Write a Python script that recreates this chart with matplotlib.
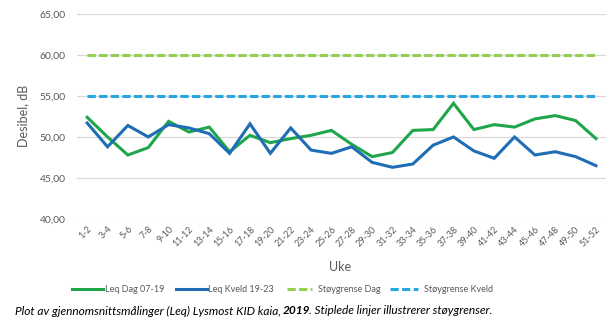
import matplotlib
matplotlib.use("Agg")
import matplotlib.pyplot as plt
from matplotlib.ticker import FuncFormatter, MultipleLocator
from matplotlib.lines import Line2D

# Two-week periods (uke)
weeks = ["1-2", "3-4", "5-6", "7-8", "9-10", "11-12", "13-14", "15-16", "17-18",
         "19-20", "21-22", "23-24", "25-26", "27-28", "29-30", "31-32", "33-34",
         "35-36", "37-38", "39-40", "41-42", "43-44", "45-46", "47-48", "49-50", "51-52"]

# Average Leq per period, dB
leq_dag = [52.4, 50.0, 47.8, 48.7, 51.9, 50.6, 51.2, 48.2, 50.2,
           49.3, 49.8, 50.2, 50.8, 49.1, 47.6, 48.1, 50.8,
           50.9, 54.1, 50.9, 51.5, 51.2, 52.2, 52.6, 52.0, 49.8]
leq_kveld = [51.7, 48.8, 51.4, 50.0, 51.5, 51.1, 50.4, 48.0, 51.6,
             48.0, 51.1, 48.4, 48.0, 48.8, 46.9, 46.3, 46.7,
             49.0, 50.0, 48.3, 47.4, 50.0, 47.8, 48.2, 47.6, 46.5]

# Noise limits, dB
grense_dag = 60.0
grense_kveld = 55.0

green = "#1FA64A"
blue = "#1E6DB5"
lgreen = "#92D050"
lblue = "#27A7E0"
grey = "#595959"

plt.rcParams["font.family"] = ["Lato", "DejaVu Sans"]

W, H = 616, 323
fig = plt.figure(figsize=(W / 100, H / 100), dpi=100)
ax = fig.add_axes([0.125, 0.322, 0.859, 0.635])

x = list(range(len(weeks)))
lw = 2.2
dash = (2.7, 1.1)
ax.plot(x, leq_dag, color=green, lw=lw, solid_joinstyle="miter", zorder=3)
ax.plot(x, leq_kveld, color=blue, lw=lw, solid_joinstyle="miter", zorder=3)
ax.plot(x, [grense_dag] * len(x), color=lgreen, lw=lw, dashes=dash, zorder=2)
ax.plot(x, [grense_kveld] * len(x), color=lblue, lw=lw, dashes=dash, zorder=2)

ax.set_xlim(-0.5, len(weeks) - 0.5)
ax.set_ylim(40, 65)
ax.yaxis.set_major_locator(MultipleLocator(5))
ax.yaxis.set_major_formatter(FuncFormatter(lambda v, p: f"{v:.2f}".replace(".", ",")))
ax.grid(axis="y", color="#d9d9d9", lw=0.9)
ax.set_axisbelow(True)
for s in ax.spines.values():
    s.set_visible(False)
ax.tick_params(axis="both", length=0, colors=grey, labelsize=7.5)
ax.tick_params(axis="y", pad=8)
ax.tick_params(axis="x", pad=4, labelsize=6.5)
ax.set_xticks(x)
ax.set_xticklabels(weeks, rotation=45, ha="right", rotation_mode="anchor")

fig.text(23 / W, 1 - 116 / H, "Desibel, dB", rotation=90, ha="center", va="center",
         fontsize=9, color=grey)
fig.text(340 / W, 1 - 267 / H, "Uke", ha="center", va="center", fontsize=9, color=grey)

# Legend entries laid out in a single row
legend_items = [
    (72, 103, 105, green, None, "Leq Dag 07-19"),
    (176, 207, 208, blue, None, "Leq Kveld 19-23"),
    (287, 312, 318, lgreen, dash, "Støygrense Dag"),
    (390, 418, 424, lblue, dash, "Støygrense Kveld"),
]
ly = 1 - 289 / H
for x0, x1, xt, col, ds, lab in legend_items:
    kw = {"dashes": ds} if ds else {}
    fig.add_artist(Line2D([x0 / W, x1 / W], [ly, ly], color=col, lw=lw,
                          transform=fig.transFigure, **kw))
    fig.text(xt / W, ly, lab, ha="left", va="center", fontsize=6.5, color=grey)

# Caption with the year in bold
fig.canvas.draw()
renderer = fig.canvas.get_renderer()
parts = [("Plot av gjennomsnittsmålinger (Leq) Lysmost KID kaia, ", "normal"),
         ("2019", "bold"),
         (". Stiplede linjer illustrerer støygrenser.", "normal")]
xpos = 15
for txt, wgt in parts:
    t = fig.text(xpos / W, 1 - 311 / H, txt, ha="left", va="center",
                 fontsize=8.6, style="italic", weight=wgt, color="black")
    bb = t.get_window_extent(renderer=renderer)
    xpos += bb.width - 1

fig.savefig("out.png", dpi=100)
